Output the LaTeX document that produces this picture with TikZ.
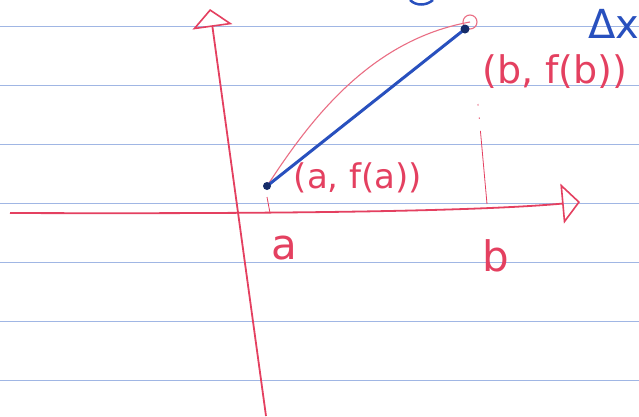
\documentclass[tikz,border=0pt]{standalone}
\usepackage{fontspec}
\setmainfont{DejaVu Sans}
\usetikzlibrary{arrows.meta}
\definecolor{inkred}{RGB}{228,64,96}
\definecolor{inkpink}{RGB}{234,110,132}
\definecolor{inkblue}{RGB}{40,80,190}
\definecolor{paperline}{RGB}{160,182,228}
\tikzset{
  hand/.style={text=inkred, inner sep=0pt, font=\fontsize{34}{40}\selectfont},
  bighand/.style={hand, font=\fontsize{42}{48}\selectfont},
  axisline/.style={inkred, line width=1.8pt,
    -{Triangle[open, length=18pt, width=40pt, line width=1.6pt]}},
}
\begin{document}
\begin{tikzpicture}[x=1pt, y=-1pt]
  \useasboundingbox (0,0) rectangle (639,416);
  \clip (0,0) rectangle (639,416);
  \fill[white] (0,0) rectangle (639,416);
  % ruled lines
  \foreach \y in {26,85,144,203,262,321,380}{
    \draw[paperline, line width=0.9pt] (0,\y) -- (639,\y);
  }
  % axes
  \coordinate (xl) at (10,213);
  \coordinate (xr) at (580,202);
  \coordinate (yb) at (266,416);
  \coordinate (yt) at (210,9);
  \draw[axisline] (xl) .. controls (300,214) and (480,211) .. (xr);
  \draw[axisline] (yb) -- (yt);
  % points and curve
  \coordinate (A) at (267,186);
  \coordinate (B) at (465,29);
  \coordinate (Bc) at (470,22);
  \draw[inkpink, line width=1.1pt] (A) .. controls (310,120) and (370,40) .. (Bc);
  \draw[inkpink, line width=1.1pt] (Bc) circle (7pt);
  % secant
  \draw[inkblue, line width=3pt, line cap=round] (A) -- (B);
  \fill[inkblue!55!black] (A) circle (4pt) (B) circle (4.5pt);
  % guides down to the axis
  \coordinate (at) at (267,197);
  \coordinate (ab) at (270,213);
  \coordinate (bt) at (478,104);
  \coordinate (bb) at (487,204);
  \draw[inkred, line width=0.8pt] (at) -- (ab);
  \draw[inkred, line width=0.8pt,
    dash pattern=on 1.5pt off 12pt on 1.5pt off 12pt on 200pt] (bt) -- (bb);
  % labels
  \node[bighand] (alab) at (284,248) {a};
  \node[bighand] (blab) at (496,256) {b};
  \node[hand] (Alab) at (358,178) {(a, f(a))};
  \node[hand, font=\fontsize{38}{44}\selectfont] (Blab) at (555,72) {(b, f(b))};
  \node[hand, text=inkblue, font=\fontsize{40}{46}\selectfont, anchor=west] (dx) at (588,24) {Δx};
  % cut-off stroke at the top
  \draw[inkblue, line width=2.5pt] (410,0) .. controls (416,6) and (426,6) .. (433,0);
\end{tikzpicture}
\end{document}
